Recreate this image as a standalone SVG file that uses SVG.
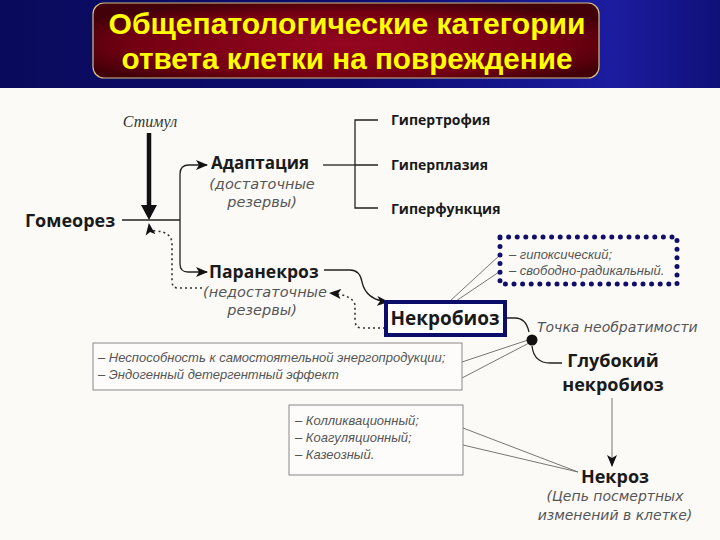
<svg xmlns="http://www.w3.org/2000/svg" width="720" height="540" viewBox="0 0 720 540">
<defs>
<linearGradient id="band" x1="0" y1="0" x2="1" y2="0">
<stop offset="0" stop-color="#0a0a5c"/>
<stop offset="0.5" stop-color="#0c0c70"/>
<stop offset="0.85" stop-color="#1c1ca0"/>
<stop offset="1" stop-color="#10107a"/>
</linearGradient>
<radialGradient id="red" cx="0.5" cy="0.55" r="0.6">
<stop offset="0" stop-color="#960620"/>
<stop offset="0.7" stop-color="#740012"/>
<stop offset="1" stop-color="#420008"/>
</radialGradient>
<marker id="arr" markerUnits="userSpaceOnUse" markerWidth="12" markerHeight="12" viewBox="0 0 12 12" refX="11" refY="6" orient="auto">
<path d="M0,1 L12,6 L0,11 L3,6 Z" fill="#111"/>
</marker>
<style>
.bg{fill:#fcfaf7}
.ttl{font-family:"Liberation Sans",Arial,sans-serif;font-weight:bold;font-size:30px;fill:#ffff00;text-anchor:middle}
.nb{font-family:"Open Sans","DejaVu Sans",sans-serif;font-weight:bold;fill:#1a1a1a}
.it{font-family:"DejaVu Sans","Liberation Sans",sans-serif;font-style:italic;fill:#555}
.sm{font-family:"Liberation Sans",Arial,sans-serif;font-style:italic;font-size:13px;fill:#555}
.ln{fill:none;stroke:#222;stroke-width:1.3}
.dot{fill:none;stroke:#333;stroke-width:1.6;stroke-dasharray:2 3}
.thin{fill:none;stroke:#666;stroke-width:0.9}
.box{fill:#fdfcfa;stroke:#888;stroke-width:1}
</style>
</defs>
<rect class="bg" x="0" y="0" width="720" height="540"/>
<rect x="0" y="0" width="720" height="88" fill="url(#band)"/>
<g id="title">
<rect x="93" y="3" width="506" height="75" rx="11" fill="url(#red)" stroke="#d8c080" stroke-width="1.2"/>
<text class="ttl" x="347" y="34" textLength="477" lengthAdjust="spacingAndGlyphs">Общепатологические категории</text>
<text class="ttl" x="347" y="69" textLength="451" lengthAdjust="spacingAndGlyphs">ответа клетки на повреждение</text>
</g>
<g id="connectors">
<path d="M149,133 V208" stroke="#111" stroke-width="4.5" fill="none"/>
<polygon points="141,205 157,205 149,220" fill="#111"/>
<path class="ln" d="M122,220 H180"/>
<path class="ln" d="M180,220 V174 Q180,165 189,165 H207" marker-end="url(#arr)"/>
<path class="ln" d="M180,220 V264 Q180,272 188,272 H207" marker-end="url(#arr)"/>
<path class="dot" d="M202,288 H178 Q172,288 172,281 V244 Q172,232 156,231 Q150,231 149,224" marker-end="url(#arr)"/>
<path class="ln" d="M323,165 H355"/>
<path class="ln" d="M378,120 H355 V208 H378 M355,165 H378"/>
<path class="ln" d="M324,270 H350 Q360,270 362,282 Q366,300 388,302" marker-end="url(#arr)"/>
<path class="dot" d="M385,328 H362 Q355,328 355,320 V305 Q353,295 330,293" marker-end="url(#arr)"/>
<path class="thin" d="M450,301 L500,255 M456,301 L502,270"/>
<path class="ln" d="M505,318 H515 Q526,318 529,332"/>
<path class="thin" d="M462,362 L528,340 M462,378 L529,343"/>
<path class="ln" d="M532,346 Q534,363 550,363 H562"/>
<path class="thin" d="M612,398 V466" marker-end="url(#arr)"/>
<path class="thin" d="M463,428 L578,472 M463,445 L578,472"/>
</g>
<g id="stimul"><text x="150" y="127" text-anchor="middle" font-family="Liberation Serif,serif" font-style="italic" font-size="16" fill="#333">Стимул</text></g>
<g id="gomeorez"><text class="nb" x="25" y="227" font-size="18">Гомеорез</text></g>
<g id="adaptaciya">
<text class="nb" x="211" y="169" font-size="17">Адаптация</text>
<text class="it" x="262" y="189" font-size="14.5" text-anchor="middle">(достаточные</text>
<text class="it" x="262" y="207" font-size="14.5" text-anchor="middle">резервы)</text>
</g>
<g id="gipertrofiya"><text class="nb" x="391" y="125" font-size="14">Гипертрофия</text></g>
<g id="giperplaziya"><text class="nb" x="391" y="170" font-size="14">Гиперплазия</text></g>
<g id="giperfunkciya"><text class="nb" x="391" y="214" font-size="14">Гиперфункция</text></g>
<g id="paranekroz">
<text class="nb" x="209" y="278" font-size="17.5">Паранекроз</text>
<text class="it" x="265" y="297" font-size="14.5" text-anchor="middle">(недостаточные</text>
<text class="it" x="262" y="315" font-size="14.5" text-anchor="middle">резервы)</text>
</g>
<g id="nekrobioz">
<rect x="386" y="302" width="119" height="33" fill="#fff" stroke="#0c0c6a" stroke-width="4"/>
<text class="nb" x="445" y="325" font-size="19" text-anchor="middle">Некробиоз</text>
</g>
<g id="mechanizmy">
<rect x="500" y="237" width="177" height="47" fill="none" stroke="#10106a" stroke-width="5" stroke-dasharray="0 8.6" stroke-linecap="round"/>
<text class="sm" x="509" y="259">– гипоксический;</text>
<text class="sm" x="509" y="275">– свободно-радикальный.</text>
</g>
<g id="tochka">
<circle cx="532" cy="340" r="5.5" fill="#111"/>
<text class="it" x="537" y="332" font-size="14">Точка необратимости</text>
</g>
<g id="priznaki">
<rect class="box" x="93" y="343" width="369" height="47"/>
<text class="sm" x="98" y="362">– Неспособность к самостоятельной энергопродукции;</text>
<text class="sm" x="98" y="379">– Эндогенный детергентный эффект</text>
</g>
<g id="glubokiy">
<text class="nb" x="613" y="367" font-size="18" text-anchor="middle">Глубокий</text>
<text class="nb" x="613" y="391" font-size="18" text-anchor="middle">некробиоз</text>
</g>
<g id="vidy">
<rect class="box" x="289" y="405" width="174" height="70"/>
<text class="sm" x="295" y="425">– Колликвационный;</text>
<text class="sm" x="295" y="442">– Коагуляционный;</text>
<text class="sm" x="295" y="459">– Казеозный.</text>
</g>
<g id="nekroz">
<text class="nb" x="615" y="483" font-size="18" text-anchor="middle">Некроз</text>
<text class="it" x="615" y="501" font-size="14" text-anchor="middle">(Цепь посмертных</text>
<text class="it" x="615" y="520" font-size="14" text-anchor="middle">изменений в клетке)</text>
</g>
</svg>
